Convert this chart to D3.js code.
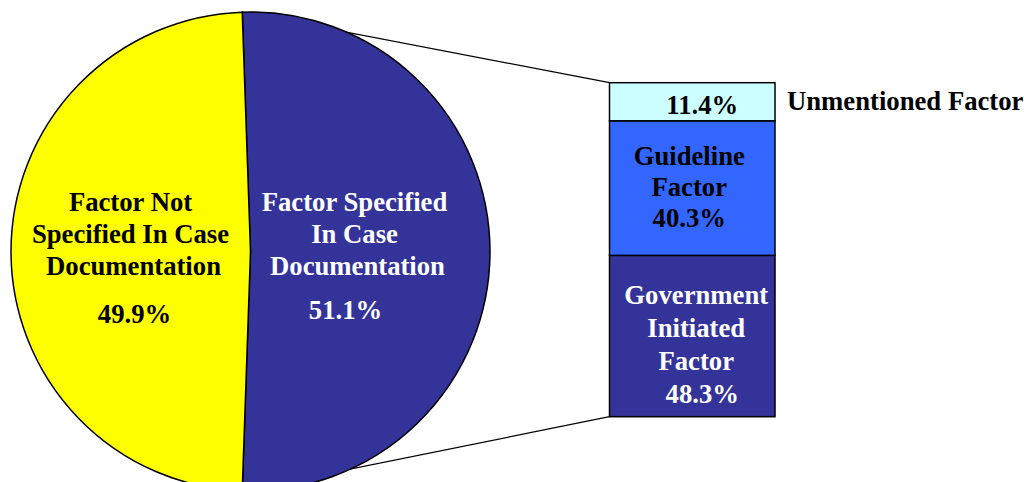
<!DOCTYPE html>
<html>
<head>
<meta charset="utf-8">
<script src="https://cdn.jsdelivr.net/npm/d3@7"></script>
<style>
  body { margin: 0; background: #fff; }
  text { font-family: "Liberation Serif", "Times New Roman", serif; font-weight: bold; font-size: 26.7px; }
</style>
</head>
<body>
<script>
    // pie: share of cases where factor is specified (percent of all cases)
    const pieNames = [
        ["Factor Specified", "In Case", "Documentation"],
        ["Factor Not", "Specified In Case", "Documentation"]
    ];
    const pieValues = [51.1, 49.9];
    const pieColors = ['#333399', '#ffff00'];

    // bar: breakdown of the specified slice (bottom to top)
    const barNames = [
        ["Government", "Initiated", "Factor"],
        ["Guideline", "Factor"],
        []
    ];
    const barValues = [48.3, 40.3, 11.4];
    const barColors = ['#333399', '#3366ff', '#ccffff'];
    const barTextColors = ['#ffffff', '#000000', '#000000'];
    const outsideName = "Unmentioned Factor";

    const width = 1024, height = 482;
    const cx = 250.5, cy = 251.5, r = 239.5;
    const lineH = 32;

    const svg = d3.select('body').append('svg')
        .attr('width', width)
        .attr('height', height);

    // blue slice is drawn as its share of 100%, centred on the right side
    const angle = d3.scaleLinear().domain([0, 100]).range([0, 2 * Math.PI]);
    const blueAngle = angle(pieValues[0]);
    const a0 = Math.PI / 2 - blueAngle / 2;
    const arcs = [
        {startAngle: a0, endAngle: a0 + blueAngle, value: pieValues[0]},
        {startAngle: a0 + blueAngle, endAngle: a0 + 2 * Math.PI, value: pieValues[1]}
    ];
    const arc = d3.arc().innerRadius(0).outerRadius(r);

    // bar scales
    const barX0 = 609.5, barX1 = 775;
    const yScale = d3.scaleLinear()
        .domain([0, d3.sum(barValues)])
        .range([416.7, 82.7]);
    const stacked = [];
    let acc = 0;
    barValues.forEach((v, i) => { stacked.push({i: i, y0: acc, y1: acc + v, v: v}); acc += v; });

    // connector lines from slice edges to bar corners
    const pt = a => [cx + r * Math.sin(a), cy - r * Math.cos(a)];
    const pTop = pt(arcs[0].startAngle), pBot = pt(arcs[0].endAngle);
    svg.append('line')
        .attr('x1', pTop[0]).attr('y1', pTop[1])
        .attr('x2', barX0).attr('y2', yScale(acc))
        .attr('stroke', '#000').attr('stroke-width', 1.2);
    svg.append('line')
        .attr('x1', pBot[0]).attr('y1', pBot[1])
        .attr('x2', barX0).attr('y2', yScale(0))
        .attr('stroke', '#000').attr('stroke-width', 1.2);

    // pie slices
    const pg = svg.append('g').attr('transform', `translate(${cx}, ${cy})`);
    pg.selectAll('path')
        .data(arcs)
        .enter()
        .append('path')
            .attr('d', arc)
            .attr('fill', (d, i) => pieColors[i])
            .attr('stroke', '#000')
            .attr('stroke-width', 1.5);

    // pie labels
    const pieLabelX = [104, -120];
    const pieTextColors = ['#ffffff', '#000000'];
    arcs.forEach((d, i) => {
        const t = pg.append('text')
            .attr('text-anchor', 'middle')
            .attr('fill', pieTextColors[i]);
        pieNames[i].forEach((s, j) => {
            t.append('tspan')
                .attr('x', pieLabelX[i] + (j == 2 ? 3 : 0))
                .attr('y', -41 + j * lineH)
                .text(s);
        });
        pg.append('text')
            .attr('text-anchor', 'middle')
            .attr('fill', pieTextColors[i])
            .attr('x', pieLabelX[i] - (i == 0 ? 9 : -4))
            .attr('y', i == 0 ? 67 : 71)
            .text(d.value.toFixed(1) + '%');
    });

    // bar segments
    svg.selectAll('rect.seg')
        .data(stacked)
        .enter()
        .append('rect')
            .attr('class', 'seg')
            .attr('x', barX0)
            .attr('y', d => yScale(d.y1))
            .attr('width', barX1 - barX0)
            .attr('height', d => yScale(d.y0) - yScale(d.y1))
            .attr('fill', d => barColors[d.i])
            .attr('stroke', '#000')
            .attr('stroke-width', 1.5);

    // bar labels
    const barMid = (barX0 + barX1) / 2;
    stacked.forEach(d => {
        const lines = barNames[d.i].concat([d.v.toFixed(1) + '%']);
        const mid = (yScale(d.y0) + yScale(d.y1)) / 2;
        const shift = d.i == 0 ? 7 : (d.i == 2 ? 3 : 0);
        const first = mid - (lines.length - 1) * lineH / 2 + 9 + shift;
        const t = svg.append('text')
            .attr('text-anchor', 'middle')
            .attr('fill', barTextColors[d.i]);
        lines.forEach((s, j) => {
            const last = j == lines.length - 1;
            const dx = d.i == 1 ? -3 : (last ? 10 : 4);
            t.append('tspan')
                .attr('x', barMid + dx)
                .attr('y', first + j * (d.i == 0 ? 33 : 31))
                .text(s);
        });
    });

    svg.append('text')
        .attr('x', 787)
        .attr('y', 110)
        .attr('fill', '#000')
        .text(outsideName);
</script>
</body>
</html>
